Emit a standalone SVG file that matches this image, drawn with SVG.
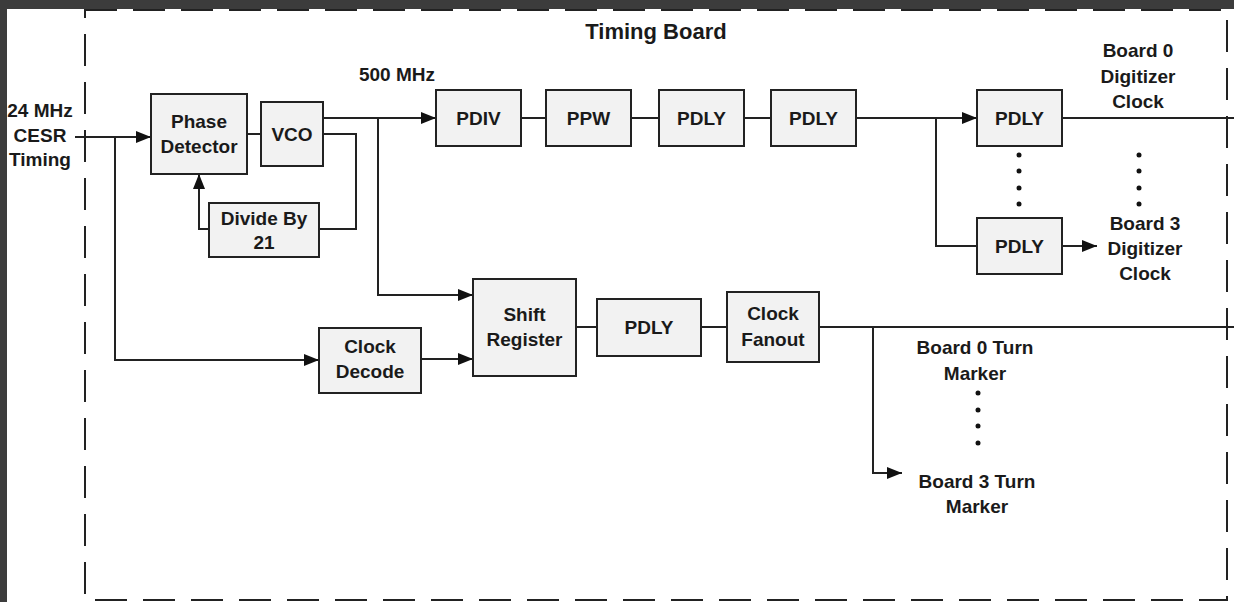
<svg xmlns="http://www.w3.org/2000/svg" width="1234" height="602" viewBox="0 0 1234 602">
<style>
.box{fill:#f2f2f2;stroke:#222;stroke-width:2}
.t{font-family:"Liberation Sans",Arial,sans-serif;font-weight:bold;font-size:19px;fill:#1a1a1a;text-anchor:middle}
.w{fill:none;stroke:#222;stroke-width:2}
.dot{fill:#111}
</style>
<defs>
<marker id="a" markerUnits="userSpaceOnUse" markerWidth="16" markerHeight="14" refX="15" refY="6" orient="auto">
<path d="M0,0 L15,6 L0,12 Z" fill="#111"/>
</marker>
</defs>
<rect x="0" y="0" width="1234" height="602" fill="#fff"/>
<rect x="0" y="0" width="1234" height="9" fill="#3c3c3c"/>
<rect x="0" y="0" width="7" height="602" fill="#3c3c3c"/>
<rect id="board" x="85" y="10" width="1142" height="590" fill="none" stroke="#222" stroke-width="2" stroke-dasharray="32 16"/>
<text class="t" x="656" y="39" style="font-size:22px">Timing Board</text>

<g id="connectors">
<path class="w" d="M75,137 H151" marker-end="url(#a)"/>
<path class="w" d="M115,137 V360 H319" marker-end="url(#a)"/>
<path class="w" d="M247,134 H261"/>
<path class="w" d="M323,118 H436" marker-end="url(#a)"/>
<path class="w" d="M378,118 V295 H473" marker-end="url(#a)"/>
<path class="w" d="M323,134 H356 V229 H319"/>
<path class="w" d="M209,229 H199 V174" marker-end="url(#a)"/>
<path class="w" d="M521,118 H546"/>
<path class="w" d="M631,118 H659"/>
<path class="w" d="M744,118 H771"/>
<path class="w" d="M856,118 H977" marker-end="url(#a)"/>
<path class="w" d="M936,118 V246 H977"/>
<path class="w" d="M1062,118 H1234"/>
<path class="w" d="M1062,246 H1097" marker-end="url(#a)"/>
<path class="w" d="M421,359 H473" marker-end="url(#a)"/>
<path class="w" d="M576,327 H597"/>
<path class="w" d="M701,327 H727"/>
<path class="w" d="M819,327 H1234"/>
<path class="w" d="M873,327 V473 H902" marker-end="url(#a)"/>
</g>

<g id="input-label">
<text class="t" x="40" y="117">24 MHz</text>
<text class="t" x="40" y="142">CESR</text>
<text class="t" x="40" y="166">Timing</text>
</g>
<text class="t" x="397" y="81">500 MHz</text>

<g id="phase-detector"><rect class="box" x="151" y="94" width="96" height="80"/><text class="t" x="199" y="128">Phase</text><text class="t" x="199" y="153">Detector</text></g>
<g id="vco"><rect class="box" x="261" y="102" width="62" height="64"/><text class="t" x="292" y="141">VCO</text></g>
<g id="divide"><rect class="box" x="209" y="203" width="110" height="54"/><text class="t" x="264" y="225">Divide By</text><text class="t" x="264" y="249">21</text></g>
<g id="pdiv"><rect class="box" x="436" y="90" width="85" height="56"/><text class="t" x="478.5" y="125">PDIV</text></g>
<g id="ppw"><rect class="box" x="546" y="90" width="85" height="56"/><text class="t" x="588.5" y="125">PPW</text></g>
<g id="pdly1"><rect class="box" x="659" y="90" width="85" height="56"/><text class="t" x="701.5" y="125">PDLY</text></g>
<g id="pdly2"><rect class="box" x="771" y="90" width="85" height="56"/><text class="t" x="813.5" y="125">PDLY</text></g>
<g id="pdly3"><rect class="box" x="977" y="90" width="85" height="56"/><text class="t" x="1019.5" y="125">PDLY</text></g>
<g id="pdly4"><rect class="box" x="977" y="218" width="85" height="56"/><text class="t" x="1019.5" y="253">PDLY</text></g>
<g id="dots1"><circle class="dot" cx="1019" cy="155" r="2.5"/><circle class="dot" cx="1019" cy="171" r="2.5"/><circle class="dot" cx="1019" cy="188" r="2.5"/><circle class="dot" cx="1019" cy="204" r="2.5"/></g>
<g id="dots2"><circle class="dot" cx="1139" cy="155" r="2.5"/><circle class="dot" cx="1139" cy="171" r="2.5"/><circle class="dot" cx="1139" cy="188" r="2.5"/><circle class="dot" cx="1139" cy="204" r="2.5"/></g>
<g id="board0-clock"><text class="t" x="1138" y="57">Board 0</text><text class="t" x="1138" y="83">Digitizer</text><text class="t" x="1138" y="108">Clock</text></g>
<g id="board3-clock"><text class="t" x="1145" y="230">Board 3</text><text class="t" x="1145" y="255">Digitizer</text><text class="t" x="1145" y="280">Clock</text></g>

<g id="clock-decode"><rect class="box" x="319" y="328" width="102" height="65"/><text class="t" x="370" y="353">Clock</text><text class="t" x="370" y="378">Decode</text></g>
<g id="shift-register"><rect class="box" x="473" y="279" width="103" height="97"/><text class="t" x="524.5" y="321">Shift</text><text class="t" x="524.5" y="346">Register</text></g>
<g id="pdly5"><rect class="box" x="597" y="299" width="104" height="57"/><text class="t" x="649" y="334">PDLY</text></g>
<g id="clock-fanout"><rect class="box" x="727" y="292" width="92" height="70"/><text class="t" x="773" y="320">Clock</text><text class="t" x="773" y="346">Fanout</text></g>
<g id="turn0"><text class="t" x="975" y="354">Board 0 Turn</text><text class="t" x="975" y="380">Marker</text></g>
<g id="dots3"><circle class="dot" cx="978" cy="393" r="2.5"/><circle class="dot" cx="978" cy="410" r="2.5"/><circle class="dot" cx="978" cy="426" r="2.5"/><circle class="dot" cx="978" cy="443" r="2.5"/></g>
<g id="turn3"><text class="t" x="977" y="488">Board 3 Turn</text><text class="t" x="977" y="513">Marker</text></g>
</svg>
